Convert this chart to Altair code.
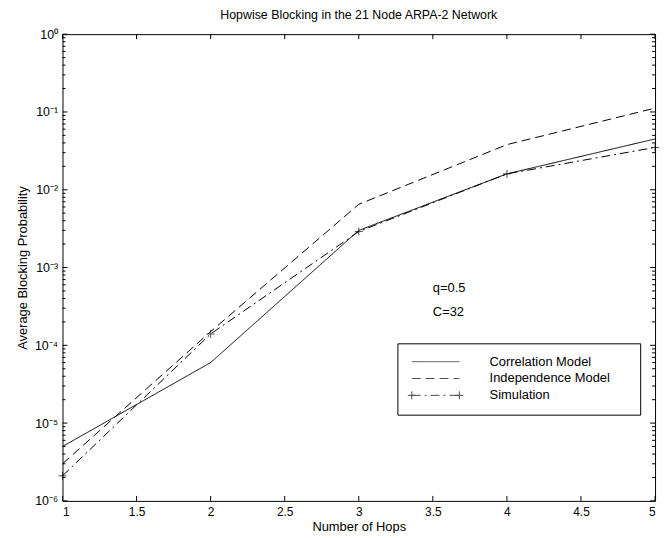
import altair as alt
import pandas as pd

# ---------------- data ----------------
hops = [1, 2, 3, 4, 5]
correlation = [5.0e-6, 6.0e-5, 3.0e-3, 1.6e-2, 4.5e-2]
independence = [3.0e-6, 1.5e-4, 6.5e-3, 3.8e-2, 1.12e-1]
simulation = [2.1e-6, 1.4e-4, 2.9e-3, 1.6e-2, 3.5e-2]
series_names = ["Correlation Model", "Independence Model", "Simulation"]

x_ticks = [1, 1.5, 2, 2.5, 3, 3.5, 4, 4.5, 5]
y_major = [1e-6, 1e-5, 1e-4, 1e-3, 1e-2, 1e-1, 1]
y_minor = [m * 10.0 ** e for e in range(-6, 0) for m in range(2, 10)]

notes = ["q=0.5", "C=32"]
note_x = [3.5, 3.5]
note_y = [5.4e-4, 2.7e-4]

title_text = "Hopwise Blocking in the 21 Node ARPA-2 Network"

# ---------------- layout ----------------
W, H = 598, 471
FONT = "Liberation Sans"

rows = []
for name, vals in zip(series_names, [correlation, independence, simulation]):
    for h, v in zip(hops, vals):
        rows.append({"hops": h, "value": v, "series": name})
df = pd.DataFrame(rows)
sim_df = df[df.series == "Simulation"]

xs = alt.Scale(domain=[1, 5], nice=False, zero=False)
ys = alt.Scale(type="log", domain=[1e-6, 1], nice=False)

label_expr = ("['10\u207b\u2076','10\u207b\u2075','10\u207b\u2074','10\u207b\u00b3',"
              "'10\u207b\u00b2','10\u207b\u00b9','10\u2070'][round(log(datum.value)/LN10)+6]")

x_enc = alt.X("hops:Q", scale=xs,
              axis=alt.Axis(values=x_ticks, title="Number of Hops", ticks=False, domain=False,
                            grid=False, labelPadding=6, titlePadding=3, format="~g",
                            labelFont=FONT, labelFontSize=12, labelColor="black",
                            titleFont=FONT, titleFontSize=13, titleColor="black",
                            titleFontWeight="normal"))
y_enc = alt.Y("value:Q", scale=ys,
              axis=alt.Axis(values=y_major, title="Average Blocking Probability", ticks=False,
                            domain=False, grid=False, labelExpr=label_expr, labelPadding=5,
                            titlePadding=5, labelFont=FONT, labelFontSize=12.5,
                            labelColor="black", titleFont=FONT, titleFontSize=13,
                            titleColor="black", titleFontWeight="normal"))

pad_expr = "datum.label + '" + "\u00a0" * 5 + "\u200b'"
leg = alt.Legend(title=None, orient="none", legendX=338, legendY=312, direction="vertical",
                 strokeColor="black", fillColor="white", padding=12, symbolSize=36,
                 symbolStrokeWidth=1, symbolStrokeColor="black", labelFont=FONT,
                 labelFontSize=13, labelColor="black", rowPadding=3, symbolOffset=20,
                 labelOffset=48, labelLimit=300, labelExpr=pad_expr)

dash_scale = alt.Scale(domain=series_names, range=[[1, 0], [9, 5], [9, 4, 2, 4]])
shape_scale = alt.Scale(domain=series_names, range=[
    "M-8,0H8", "M-8,0H8",
    "M-8,0H8M-8,-1.33V1.33M8,-1.33V1.33M-9.33,0H-6.67M6.67,0H9.33"])

lines = alt.Chart(df).mark_line(strokeWidth=1, color="black").encode(
    x=x_enc, y=y_enc,
    strokeDash=alt.StrokeDash("series:N", scale=dash_scale, legend=leg),
)

legend_shapes = alt.Chart(df).transform_filter("datum.series == 'none'").mark_point(
    filled=False, color="black", strokeWidth=1).encode(
    x=alt.X("hops:Q", scale=xs), y=alt.Y("value:Q", scale=ys),
    shape=alt.Shape("series:N", scale=shape_scale, legend=leg),
)

markers = alt.Chart(sim_df).mark_point(shape="M-1,0H1M0,-1V1", size=64, filled=False,
                                      strokeWidth=1, color="black").encode(
    x=alt.X("hops:Q", scale=xs), y=alt.Y("value:Q", scale=ys))

tx = pd.DataFrame({"t": x_ticks})
ty = pd.DataFrame({"t": y_major})
tm = pd.DataFrame({"t": y_minor})

def xrule(y0, y1):
    return alt.Chart(tx).mark_rule(color="black", strokeWidth=1).encode(
        x=alt.X("t:Q", scale=xs), y=alt.value(y0), y2=alt.value(y1))

def yrule(data, x0, x1):
    return alt.Chart(data).mark_rule(color="black", strokeWidth=1).encode(
        y=alt.Y("t:Q", scale=ys), x=alt.value(x0), x2=alt.value(x1))

ticks = [xrule(H, H - 5), xrule(0, 5),
         yrule(ty, 0, 5), yrule(ty, W, W - 5),
         yrule(tm, 0, 3), yrule(tm, W, W - 3)]

ndf = pd.DataFrame({"x": note_x, "y": note_y, "t": notes})
note_layer = alt.Chart(ndf).mark_text(align="left", baseline="middle", font=FONT,
                                      fontSize=13, color="black").encode(
    x=alt.X("x:Q", scale=xs), y=alt.Y("y:Q", scale=ys), text="t:N")

chart = alt.layer(lines, legend_shapes, markers, note_layer, *ticks).properties(
    width=W, height=H,
    background="white",
    title=alt.TitleParams(title_text, font=FONT, fontSize=12.5, fontWeight="normal",
                          color="black", anchor="middle", offset=7),
    autosize=alt.AutoSizeParams(type="none"),
    padding={"left": 55, "top": 24, "right": 5, "bottom": 30},
).configure_view(stroke="black", strokeWidth=1)

chart.save("out.html", embed_options={"renderer": "svg", "actions": False})
